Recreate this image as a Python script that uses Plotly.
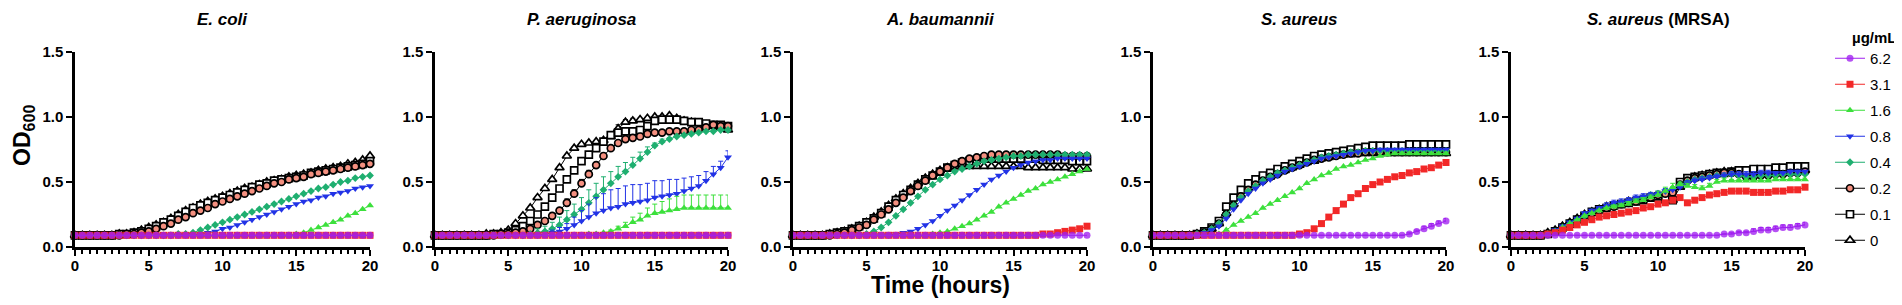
import plotly.graph_objects as go

TIME = [0, 0.5, 1, 1.5, 2, 2.5, 3, 3.5, 4, 4.5,
        5, 5.5, 6, 6.5, 7, 7.5, 8, 8.5, 9, 9.5,
        10, 10.5, 11, 11.5, 12, 12.5, 13, 13.5, 14, 14.5,
        15, 15.5, 16, 16.5, 17, 17.5, 18, 18.5, 19, 19.5,
        20]

PANELS = ["<b><i>E. coli</i></b>", "<b><i>P. aeruginosa</i></b>", "<b><i>A. baumannii</i></b>",
          "<b><i>S. aureus</i></b>", "<b><i>S. aureus</i> (MRSA)</b>"]
CONC = ["6.2", "3.1", "1.6", "0.8", "0.4", "0.2", "0.1", "0"]
FLAT = [0.09, 0.09, 0.09, 0.09, 0.09, 0.09, 0.09, 0.09, 0.09, 0.09,
        0.09, 0.09, 0.09, 0.09, 0.09, 0.09, 0.09, 0.09, 0.09, 0.09,
        0.09, 0.09, 0.09, 0.09, 0.09, 0.09, 0.09, 0.09, 0.09, 0.09,
        0.09, 0.09, 0.09, 0.09, 0.09, 0.09, 0.09, 0.09, 0.09, 0.09,
        0.09]

# ---------------- E. coli ----------------
EC_0 = [0.09, 0.09, 0.09, 0.09, 0.09, 0.09, 0.10, 0.10, 0.11, 0.13,
        0.15, 0.17, 0.19, 0.22, 0.25, 0.28, 0.30, 0.33, 0.35, 0.37,
        0.39, 0.41, 0.43, 0.45, 0.46, 0.48, 0.50, 0.51, 0.52, 0.54,
        0.55, 0.56, 0.57, 0.59, 0.60, 0.61, 0.62, 0.64, 0.65, 0.67,
        0.70]
EC_01 = [0.09, 0.09, 0.09, 0.09, 0.09, 0.09, 0.10, 0.10, 0.11, 0.12,
         0.14, 0.16, 0.19, 0.21, 0.24, 0.27, 0.30, 0.32, 0.34, 0.36,
         0.38, 0.40, 0.42, 0.44, 0.46, 0.48, 0.49, 0.51, 0.52, 0.53,
         0.54, 0.55, 0.57, 0.58, 0.59, 0.60, 0.61, 0.62, 0.63, 0.64,
         0.66]
EC_02 = [0.09, 0.09, 0.09, 0.09, 0.09, 0.09, 0.09, 0.10, 0.10, 0.11,
         0.12, 0.14, 0.16, 0.18, 0.21, 0.23, 0.26, 0.28, 0.30, 0.33,
         0.35, 0.37, 0.39, 0.41, 0.43, 0.45, 0.47, 0.49, 0.50, 0.52,
         0.53, 0.54, 0.56, 0.57, 0.58, 0.59, 0.60, 0.61, 0.62, 0.63,
         0.64]
EC_04 = [0.09, 0.09, 0.09, 0.09, 0.09, 0.09, 0.09, 0.09, 0.09, 0.09,
         0.09, 0.09, 0.09, 0.09, 0.10, 0.10, 0.11, 0.13, 0.15, 0.17,
         0.19, 0.21, 0.23, 0.25, 0.27, 0.29, 0.31, 0.33, 0.35, 0.37,
         0.39, 0.41, 0.43, 0.45, 0.46, 0.48, 0.50, 0.51, 0.53, 0.54,
         0.55]
EC_08 = [0.09, 0.09, 0.09, 0.09, 0.09, 0.09, 0.09, 0.09, 0.09, 0.09,
         0.09, 0.09, 0.09, 0.09, 0.09, 0.09, 0.09, 0.10, 0.11, 0.12,
         0.14, 0.15, 0.17, 0.19, 0.21, 0.23, 0.25, 0.27, 0.29, 0.31,
         0.33, 0.35, 0.36, 0.38, 0.39, 0.41, 0.42, 0.43, 0.45, 0.46,
         0.47]
EC_16 = [0.09, 0.09, 0.09, 0.09, 0.09, 0.09, 0.09, 0.09, 0.09, 0.09,
         0.09, 0.09, 0.09, 0.09, 0.09, 0.09, 0.09, 0.09, 0.09, 0.09,
         0.09, 0.09, 0.09, 0.09, 0.09, 0.09, 0.09, 0.09, 0.09, 0.09,
         0.10, 0.11, 0.13, 0.15, 0.17, 0.19, 0.21, 0.24, 0.26, 0.29,
         0.32]
EC_31 = FLAT
EC_62 = FLAT

# ---------------- P. aeruginosa ----------------
PA_0 = [0.09, 0.09, 0.09, 0.09, 0.09, 0.09, 0.09, 0.10, 0.10, 0.11,
        0.13, 0.18, 0.24, 0.30, 0.38, 0.45, 0.52, 0.61, 0.70, 0.76,
        0.79, 0.80, 0.81, 0.82, 0.85, 0.91, 0.96, 0.97, 0.98, 0.99,
        1.00, 1.00, 1.01, 0.99, 0.97, 0.96, 0.95, 0.94, 0.93, 0.92,
        0.90]
PA_01 = [0.09, 0.09, 0.09, 0.09, 0.09, 0.09, 0.09, 0.09, 0.10, 0.10,
         0.11, 0.13, 0.16, 0.20, 0.25, 0.31, 0.38, 0.45, 0.52, 0.59,
         0.66, 0.71, 0.76, 0.81, 0.86, 0.88, 0.89, 0.89, 0.90, 0.93,
         0.97, 0.98, 0.98, 0.98, 0.97, 0.96, 0.96, 0.95, 0.94, 0.94,
         0.93]
PA_02 = [0.09, 0.09, 0.09, 0.09, 0.09, 0.09, 0.09, 0.09, 0.09, 0.10,
         0.10, 0.11, 0.12, 0.14, 0.17, 0.20, 0.24, 0.28, 0.34, 0.41,
         0.49, 0.56, 0.63, 0.70, 0.76, 0.80, 0.83, 0.84, 0.85, 0.87,
         0.88, 0.88, 0.89, 0.89, 0.89, 0.90, 0.90, 0.92, 0.94, 0.93,
         0.93]
PA_04 = [0.09, 0.09, 0.09, 0.09, 0.09, 0.09, 0.09, 0.09, 0.09, 0.09,
         0.09, 0.09, 0.09, 0.10, 0.11, 0.12, 0.14, 0.17, 0.21, 0.25,
         0.29, 0.34, 0.39, 0.44, 0.49, 0.54, 0.58, 0.63, 0.68, 0.73,
         0.78, 0.81, 0.83, 0.85, 0.86, 0.87, 0.88, 0.89, 0.89, 0.90,
         0.90]
PA_08 = [0.09, 0.09, 0.09, 0.09, 0.09, 0.09, 0.09, 0.09, 0.09, 0.09,
         0.09, 0.09, 0.09, 0.09, 0.09, 0.10, 0.11, 0.12, 0.14, 0.17,
         0.20, 0.23, 0.26, 0.28, 0.30, 0.31, 0.33, 0.34, 0.35, 0.36,
         0.38, 0.39, 0.40, 0.41, 0.43, 0.45, 0.47, 0.51, 0.56, 0.61,
         0.69]
PA_16 = [0.09, 0.09, 0.09, 0.09, 0.09, 0.09, 0.09, 0.09, 0.09, 0.09,
         0.09, 0.09, 0.09, 0.09, 0.09, 0.09, 0.09, 0.09, 0.09, 0.09,
         0.09, 0.10, 0.10, 0.11, 0.12, 0.14, 0.16, 0.19, 0.21, 0.24,
         0.26, 0.27, 0.28, 0.29, 0.30, 0.30, 0.30, 0.30, 0.30, 0.30,
         0.30]
PA_31 = FLAT
PA_62 = FLAT
PA_02_ERR = [0, 0, 0, 0, 0, 0, 0, 0, 0, 0,
             0, 0, 0, 0, 0.01, 0.01, 0.02, 0.02, 0.03, 0.03,
             0.03, 0.03, 0.02, 0.02, 0.01, 0.01, 0.01, 0.01, 0.01, 0.01,
             0.01, 0.01, 0.01, 0.01, 0.01, 0.01, 0.01, 0.01, 0.01, 0.01,
             0.01]
PA_0_ERR = [0, 0, 0, 0, 0, 0, 0, 0, 0, 0,
            0, 0, 0, 0, 0.01, 0.01, 0.01, 0.01, 0.01, 0.01,
            0.01, 0.01, 0.01, 0.01, 0.02, 0.03, 0.02, 0.02, 0.01, 0.01,
            0.01, 0.01, 0.01, 0.01, 0.01, 0.01, 0.01, 0.01, 0.01, 0.01,
            0.01]
PA_04_ERR = [0, 0, 0, 0, 0, 0, 0, 0, 0, 0,
             0, 0, 0, 0, 0.03, 0.04, 0.05, 0.06, 0.07, 0.08,
             0.09, 0.10, 0.10, 0.10, 0.09, 0.08, 0.07, 0.06, 0.05, 0.04,
             0.02, 0.02, 0.01, 0.01, 0.01, 0.01, 0.01, 0.01, 0.01, 0.01,
             0.01]
PA_08_ERR = [0, 0, 0, 0, 0, 0, 0, 0, 0, 0,
             0, 0, 0, 0, 0, 0, 0.02, 0.03, 0.04, 0.06,
             0.08, 0.10, 0.12, 0.13, 0.14, 0.14, 0.14, 0.14, 0.13, 0.13,
             0.13, 0.12, 0.12, 0.11, 0.10, 0.09, 0.08, 0.07, 0.06, 0.05,
             0.05]
PA_16_ERR = [0, 0, 0, 0, 0, 0, 0, 0, 0, 0,
             0, 0, 0, 0, 0, 0, 0, 0, 0, 0,
             0, 0, 0, 0, 0.01, 0.02, 0.03, 0.04, 0.05, 0.06,
             0.07, 0.08, 0.09, 0.10, 0.10, 0.10, 0.10, 0.10, 0.10, 0.10,
             0.10]

# ---------------- A. baumannii ----------------
AB_0 = [0.09, 0.09, 0.09, 0.09, 0.09, 0.10, 0.11, 0.12, 0.14, 0.16,
        0.19, 0.23, 0.27, 0.32, 0.37, 0.41, 0.45, 0.49, 0.53, 0.56,
        0.59, 0.61, 0.62, 0.62, 0.62, 0.62, 0.62, 0.62, 0.62, 0.62,
        0.62, 0.62, 0.61, 0.61, 0.61, 0.61, 0.61, 0.61, 0.60, 0.60,
        0.60]
AB_01 = [0.09, 0.09, 0.09, 0.09, 0.09, 0.10, 0.11, 0.12, 0.14, 0.16,
         0.19, 0.22, 0.26, 0.31, 0.36, 0.40, 0.44, 0.48, 0.52, 0.55,
         0.58, 0.61, 0.63, 0.65, 0.66, 0.67, 0.68, 0.68, 0.68, 0.68,
         0.68, 0.68, 0.68, 0.68, 0.67, 0.67, 0.67, 0.67, 0.66, 0.66,
         0.66]
AB_02 = [0.09, 0.09, 0.09, 0.09, 0.09, 0.09, 0.10, 0.11, 0.13, 0.15,
         0.17, 0.21, 0.25, 0.29, 0.34, 0.38, 0.43, 0.47, 0.51, 0.55,
         0.58, 0.61, 0.64, 0.66, 0.68, 0.69, 0.70, 0.71, 0.71, 0.71,
         0.71, 0.71, 0.71, 0.71, 0.71, 0.71, 0.71, 0.70, 0.70, 0.70,
         0.70]
AB_04 = [0.09, 0.09, 0.09, 0.09, 0.09, 0.09, 0.09, 0.09, 0.09, 0.09,
         0.10, 0.12, 0.15, 0.19, 0.24, 0.29, 0.34, 0.39, 0.44, 0.48,
         0.52, 0.55, 0.58, 0.60, 0.62, 0.64, 0.66, 0.67, 0.68, 0.69,
         0.70, 0.70, 0.71, 0.71, 0.71, 0.71, 0.71, 0.71, 0.71, 0.71,
         0.71]
AB_08 = [0.09, 0.09, 0.09, 0.09, 0.09, 0.09, 0.09, 0.09, 0.09, 0.09,
         0.09, 0.09, 0.09, 0.09, 0.10, 0.11, 0.12, 0.14, 0.17, 0.20,
         0.24, 0.28, 0.32, 0.36, 0.40, 0.44, 0.48, 0.52, 0.55, 0.58,
         0.61, 0.63, 0.65, 0.66, 0.67, 0.67, 0.68, 0.68, 0.68, 0.68,
         0.68]
AB_16 = [0.09, 0.09, 0.09, 0.09, 0.09, 0.09, 0.09, 0.09, 0.09, 0.09,
         0.09, 0.09, 0.09, 0.09, 0.09, 0.09, 0.09, 0.09, 0.09, 0.10,
         0.11, 0.12, 0.14, 0.16, 0.18, 0.21, 0.24, 0.27, 0.31, 0.34,
         0.37, 0.40, 0.43, 0.45, 0.48, 0.50, 0.52, 0.54, 0.56, 0.58,
         0.60]
AB_31 = [0.09, 0.09, 0.09, 0.09, 0.09, 0.09, 0.09, 0.09, 0.09, 0.09,
         0.09, 0.09, 0.09, 0.09, 0.09, 0.09, 0.09, 0.09, 0.09, 0.09,
         0.09, 0.09, 0.09, 0.09, 0.09, 0.09, 0.09, 0.09, 0.09, 0.09,
         0.09, 0.09, 0.09, 0.09, 0.10, 0.10, 0.11, 0.12, 0.13, 0.14,
         0.16]
AB_62 = FLAT

# ---------------- S. aureus ----------------
SA_0 = [0.09, 0.09, 0.09, 0.09, 0.09, 0.09, 0.10, 0.11, 0.14, 0.18,
        0.26, 0.33, 0.40, 0.45, 0.49, 0.52, 0.54, 0.57, 0.59, 0.61,
        0.63, 0.65, 0.66, 0.68, 0.69, 0.70, 0.71, 0.71, 0.72, 0.72,
        0.72, 0.72, 0.72, 0.72, 0.72, 0.72, 0.72, 0.72, 0.72, 0.72,
        0.72]
SA_01 = [0.09, 0.09, 0.09, 0.09, 0.09, 0.09, 0.10, 0.12, 0.15, 0.20,
         0.31, 0.38, 0.44, 0.49, 0.52, 0.55, 0.57, 0.60, 0.62, 0.64,
         0.66, 0.68, 0.70, 0.71, 0.72, 0.73, 0.74, 0.75, 0.76, 0.77,
         0.78, 0.78, 0.78, 0.78, 0.78, 0.79, 0.79, 0.79, 0.79, 0.79,
         0.79]
SA_02 = [0.09, 0.09, 0.09, 0.09, 0.09, 0.09, 0.10, 0.11, 0.14, 0.18,
         0.25, 0.32, 0.39, 0.44, 0.48, 0.51, 0.54, 0.56, 0.59, 0.61,
         0.63, 0.65, 0.67, 0.68, 0.69, 0.70, 0.71, 0.72, 0.72, 0.73,
         0.73, 0.73, 0.73, 0.73, 0.73, 0.73, 0.73, 0.73, 0.73, 0.73,
         0.73]
SA_04 = [0.09, 0.09, 0.09, 0.09, 0.09, 0.09, 0.10, 0.11, 0.14, 0.18,
         0.25, 0.32, 0.38, 0.43, 0.47, 0.51, 0.54, 0.57, 0.59, 0.61,
         0.63, 0.65, 0.67, 0.69, 0.70, 0.71, 0.72, 0.73, 0.73, 0.74,
         0.74, 0.74, 0.74, 0.74, 0.74, 0.74, 0.74, 0.74, 0.74, 0.74,
         0.74]
SA_08 = [0.09, 0.09, 0.09, 0.09, 0.09, 0.09, 0.10, 0.11, 0.13, 0.16,
         0.22, 0.29, 0.36, 0.41, 0.45, 0.49, 0.52, 0.55, 0.58, 0.60,
         0.62, 0.64, 0.66, 0.68, 0.69, 0.70, 0.71, 0.72, 0.73, 0.74,
         0.74, 0.75, 0.75, 0.75, 0.75, 0.75, 0.75, 0.75, 0.75, 0.75,
         0.75]
SA_16 = [0.09, 0.09, 0.09, 0.09, 0.09, 0.09, 0.09, 0.09, 0.09, 0.10,
         0.13, 0.17, 0.20, 0.23, 0.26, 0.30, 0.33, 0.36, 0.39, 0.42,
         0.45, 0.49, 0.52, 0.55, 0.57, 0.60, 0.62, 0.63, 0.65, 0.67,
         0.68, 0.70, 0.71, 0.72, 0.72, 0.72, 0.72, 0.72, 0.72, 0.72,
         0.72]
SA_31 = [0.09, 0.09, 0.09, 0.09, 0.09, 0.09, 0.09, 0.09, 0.09, 0.09,
         0.09, 0.09, 0.09, 0.09, 0.09, 0.09, 0.09, 0.09, 0.09, 0.09,
         0.10, 0.11, 0.14, 0.18, 0.23, 0.28, 0.33, 0.38, 0.41, 0.45,
         0.48, 0.50, 0.52, 0.54, 0.55, 0.57, 0.58, 0.60, 0.61, 0.63,
         0.65]
SA_62 = [0.09, 0.09, 0.09, 0.09, 0.09, 0.09, 0.09, 0.09, 0.09, 0.09,
         0.09, 0.09, 0.09, 0.09, 0.09, 0.09, 0.09, 0.09, 0.09, 0.09,
         0.09, 0.09, 0.09, 0.09, 0.09, 0.09, 0.09, 0.09, 0.09, 0.09,
         0.09, 0.09, 0.09, 0.09, 0.09, 0.10, 0.12, 0.14, 0.16, 0.18,
         0.20]
SA_62_ERR = [0, 0, 0, 0, 0, 0, 0, 0, 0, 0,
             0, 0, 0, 0, 0, 0, 0, 0, 0, 0,
             0, 0, 0, 0, 0, 0, 0, 0, 0, 0,
             0, 0, 0, 0, 0, 0.01, 0.01, 0.02, 0.02, 0.02,
             0.02]

# ---------------- S. aureus (MRSA) ----------------
MR_0 = [0.09, 0.09, 0.09, 0.09, 0.09, 0.11, 0.13, 0.16, 0.19, 0.22,
        0.25, 0.27, 0.29, 0.31, 0.32, 0.33, 0.35, 0.36, 0.37, 0.38,
        0.39, 0.38, 0.36, 0.46, 0.52, 0.54, 0.55, 0.56, 0.57, 0.58,
        0.58, 0.57, 0.56, 0.55, 0.56, 0.56, 0.57, 0.57, 0.58, 0.58,
        0.59]
MR_01 = [0.09, 0.09, 0.09, 0.09, 0.09, 0.10, 0.12, 0.15, 0.18, 0.21,
         0.24, 0.27, 0.29, 0.30, 0.32, 0.33, 0.34, 0.35, 0.36, 0.38,
         0.39, 0.37, 0.36, 0.50, 0.53, 0.54, 0.55, 0.56, 0.57, 0.57,
         0.58, 0.59, 0.59, 0.60, 0.60, 0.60, 0.61, 0.61, 0.62, 0.62,
         0.62]
MR_02 = [0.09, 0.09, 0.09, 0.09, 0.09, 0.10, 0.12, 0.15, 0.18, 0.21,
         0.24, 0.26, 0.28, 0.30, 0.31, 0.33, 0.34, 0.35, 0.37, 0.38,
         0.40, 0.41, 0.42, 0.48, 0.51, 0.53, 0.54, 0.55, 0.56, 0.57,
         0.57, 0.56, 0.54, 0.54, 0.55, 0.55, 0.56, 0.56, 0.57, 0.57,
         0.58]
MR_04 = [0.09, 0.09, 0.09, 0.09, 0.09, 0.10, 0.12, 0.15, 0.18, 0.21,
         0.24, 0.27, 0.29, 0.31, 0.32, 0.34, 0.35, 0.37, 0.38, 0.40,
         0.41, 0.43, 0.45, 0.48, 0.50, 0.52, 0.53, 0.54, 0.55, 0.55,
         0.56, 0.55, 0.54, 0.54, 0.55, 0.55, 0.55, 0.56, 0.56, 0.56,
         0.56]
MR_08 = [0.09, 0.09, 0.09, 0.09, 0.09, 0.10, 0.13, 0.16, 0.19, 0.22,
         0.26, 0.28, 0.30, 0.32, 0.34, 0.35, 0.36, 0.38, 0.39, 0.40,
         0.41, 0.43, 0.44, 0.46, 0.49, 0.51, 0.52, 0.53, 0.54, 0.55,
         0.56, 0.56, 0.56, 0.56, 0.57, 0.57, 0.57, 0.57, 0.58, 0.58,
         0.58]
MR_16 = [0.09, 0.09, 0.09, 0.09, 0.09, 0.10, 0.12, 0.15, 0.18, 0.21,
         0.24, 0.26, 0.28, 0.30, 0.31, 0.32, 0.33, 0.35, 0.36, 0.38,
         0.40, 0.43, 0.46, 0.48, 0.47, 0.46, 0.45, 0.47, 0.50, 0.51,
         0.51, 0.51, 0.51, 0.51, 0.51, 0.51, 0.52, 0.52, 0.52, 0.52,
         0.52]
MR_31 = [0.09, 0.09, 0.09, 0.09, 0.09, 0.10, 0.11, 0.13, 0.15, 0.17,
         0.19, 0.21, 0.23, 0.24, 0.25, 0.26, 0.27, 0.28, 0.30, 0.31,
         0.33, 0.34, 0.36, 0.38, 0.34, 0.36, 0.38, 0.40, 0.41, 0.42,
         0.43, 0.43, 0.43, 0.42, 0.42, 0.42, 0.43, 0.43, 0.44, 0.44,
         0.46]
MR_62 = [0.09, 0.09, 0.09, 0.09, 0.09, 0.09, 0.09, 0.09, 0.09, 0.09,
         0.09, 0.09, 0.09, 0.09, 0.09, 0.09, 0.09, 0.09, 0.09, 0.09,
         0.09, 0.09, 0.09, 0.09, 0.09, 0.09, 0.09, 0.09, 0.09, 0.10,
         0.10, 0.11, 0.11, 0.12, 0.13, 0.13, 0.14, 0.15, 0.15, 0.16,
         0.17]
MR_62_ERR = [0, 0, 0, 0, 0, 0, 0, 0, 0, 0,
             0, 0, 0, 0, 0, 0, 0, 0, 0, 0,
             0, 0, 0, 0, 0, 0, 0, 0, 0, 0,
             0.01, 0.01, 0.01, 0.02, 0.02, 0.02, 0.02, 0.02, 0.02, 0.02,
             0.02]
MR_08_ERR = [0, 0, 0, 0, 0, 0, 0, 0, 0, 0,
             0.01, 0.01, 0.01, 0.02, 0.02, 0.02, 0.02, 0.02, 0.02, 0.02,
             0.02, 0.02, 0.02, 0.02, 0.02, 0.02, 0.02, 0.02, 0.02, 0.02,
             0.02, 0.02, 0.02, 0.02, 0.02, 0.02, 0.01, 0.01, 0.01, 0.01,
             0.01]
MR_16_ERR = [0, 0, 0, 0, 0, 0, 0, 0, 0, 0,
             0, 0, 0, 0, 0.01, 0.01, 0.02, 0.02, 0.02, 0.02,
             0.03, 0.03, 0.03, 0.02, 0.02, 0.02, 0.02, 0.02, 0.02, 0.02,
             0.01, 0.01, 0.01, 0.01, 0.01, 0.01, 0.01, 0.01, 0.01, 0.01,
             0.01]

DATA = [
    {"6.2": (EC_62, None), "3.1": (EC_31, None), "1.6": (EC_16, None), "0.8": (EC_08, None),
     "0.4": (EC_04, None), "0.2": (EC_02, None), "0.1": (EC_01, None), "0": (EC_0, None)},
    {"6.2": (PA_62, None), "3.1": (PA_31, None), "1.6": (PA_16, PA_16_ERR), "0.8": (PA_08, PA_08_ERR),
     "0.4": (PA_04, PA_04_ERR), "0.2": (PA_02, PA_02_ERR), "0.1": (PA_01, None), "0": (PA_0, PA_0_ERR)},
    {"6.2": (AB_62, None), "3.1": (AB_31, None), "1.6": (AB_16, None), "0.8": (AB_08, None),
     "0.4": (AB_04, None), "0.2": (AB_02, None), "0.1": (AB_01, None), "0": (AB_0, None)},
    {"6.2": (SA_62, SA_62_ERR), "3.1": (SA_31, None), "1.6": (SA_16, None), "0.8": (SA_08, None),
     "0.4": (SA_04, None), "0.2": (SA_02, None), "0.1": (SA_01, None), "0": (SA_0, None)},
    {"6.2": (MR_62, MR_62_ERR), "3.1": (MR_31, None), "1.6": (MR_16, MR_16_ERR), "0.8": (MR_08, MR_08_ERR),
     "0.4": (MR_04, None), "0.2": (MR_02, None), "0.1": (MR_01, None), "0": (MR_0, None)},
]

STYLE = {
    "6.2": dict(symbol="circle", color="#A020F0", fill="#A020F0", lw=0, size=7, op=0.78),
    "3.1": dict(symbol="square", color="#F22828", fill="#F22828", lw=0, size=7, op=1),
    "1.6": dict(symbol="triangle-up", color="#3CE03C", fill="#3CE03C", lw=0, size=7, op=1),
    "0.8": dict(symbol="triangle-down", color="#2233E6", fill="#2233E6", lw=0, size=7, op=1),
    "0.4": dict(symbol="diamond", color="#1FAF70", fill="#1FAF70", lw=0, size=6, op=1),
    "0.2": dict(symbol="circle", color="#000000", fill="#F49080", lw=1.7, size=7, op=1),
    "0.1": dict(symbol="square", color="#000000", fill="#FFFFFF", lw=1.7, size=7, op=1),
    "0": dict(symbol="triangle-up", color="#000000", fill="#FFFFFF", lw=1.7, size=8, op=1),
}

W, H = 1902, 305
PX = [(67, 362), (427, 720), (785, 1079), (1145, 1438), (1503, 1797)]
Y0, Y1 = 239, 44
ydom = [(H - Y0) / H, (H - Y1) / H]

FONT = "Liberation Sans, Arial, sans-serif"
fig = go.Figure()

# legend entries (in legend order)
for c in CONC:
    s = STYLE[c]
    fig.add_trace(go.Scatter(
        x=[None], y=[None], mode="lines+markers", name=c, legendgroup=c, showlegend=True,
        line=dict(color=s["color"], width=1),
        marker=dict(symbol=s["symbol"], size=s["size"], color=s["fill"], opacity=s["op"],
                    line=dict(color=s["color"], width=s["lw"])),
        xaxis="x", yaxis="y"))

# data (drawn from 0 upward so high concentrations lie on top)
for i, panel in enumerate(DATA):
    ax = "" if i == 0 else str(i + 1)
    for c in reversed(CONC):
        vals, err = panel[c]
        s = STYLE[c]
        ey = None
        if err is not None:
            ey = dict(type="data", symmetric=False, array=err, arrayminus=[0] * len(err),
                      color=s["color"] if s["lw"] == 0 else "#000000", thickness=1, width=2.5)
        fig.add_trace(go.Scatter(
            x=TIME, y=vals, mode="lines+markers", name=c, legendgroup=c, showlegend=False,
            line=dict(color=s["color"], width=1),
            marker=dict(symbol=s["symbol"], size=s["size"], color=s["fill"], opacity=s["op"],
                        line=dict(color=s["color"], width=s["lw"])),
            error_y=ey, cliponaxis=False,
            xaxis="x" + ax, yaxis="y" + ax))

layout = dict(
    template="none",
    width=W, height=H, margin=dict(l=0, r=0, t=0, b=0, autoexpand=False),
    paper_bgcolor="white", plot_bgcolor="white",
    showlegend=True,
    legend=dict(x=1822 / W, y=(H - 34) / H, xanchor="left", yanchor="top",
                traceorder="grouped", tracegroupgap=3.5, itemwidth=30,
                bgcolor="rgba(0,0,0,0)", borderwidth=0,
                font=dict(family=FONT, size=15, color="#000")),
)
annotations = []
for i, (a, b) in enumerate(PX):
    ax = "" if i == 0 else str(i + 1)
    layout["xaxis" + ax] = dict(
        domain=[a / W, b / W], range=[0, 20], anchor="y" + ax, automargin=False,
        showline=True, linewidth=2.5, linecolor="black", showgrid=False, zeroline=False,
        ticks="outside", ticklen=6, tickwidth=2, tickcolor="black",
        tickvals=[0, 5, 10, 15, 20], ticklabelstandoff=-3,
        minor=dict(dtick=0.5, tick0=0, ticks="outside", ticklen=4, tickwidth=1.5, tickcolor="black",
                   showgrid=False),
        tickfont=dict(family=FONT, size=15, color="black", weight="bold"))
    layout["yaxis" + ax] = dict(
        domain=ydom, range=[0, 1.5], anchor="x" + ax, automargin=False,
        showline=True, linewidth=2.5, linecolor="black", showgrid=False, zeroline=False,
        ticks="outside", ticklen=6, tickwidth=2, tickcolor="black",
        tickvals=[0, 0.5, 1.0, 1.5], tickformat=".1f",
        tickfont=dict(family=FONT, size=15, color="black", weight="bold"))
    annotations.append(dict(
        text=PANELS[i], x=(a + b) / 2 / W, y=(H - 12) / H, xref="paper", yref="paper",
        xanchor="center", yanchor="middle", showarrow=False,
        font=dict(family=FONT, size=17, color="black")))

annotations.append(dict(
    text="<b>µg/mL</b>", x=1842 / W, y=(H - 29) / H, xref="paper", yref="paper",
    xanchor="left", yanchor="middle", showarrow=False,
    font=dict(family=FONT, size=15, color="black")))
annotations.append(dict(
    text="<b>Time (hours)</b>", x=(PX[2][0] + PX[2][1]) / 2 / W, y=(H - 277) / H,
    xref="paper", yref="paper", xanchor="center", yanchor="middle", showarrow=False,
    font=dict(family=FONT, size=23, color="black")))
annotations.append(dict(
    text="<b>OD<sub>600</sub></b>", x=15 / W, y=(H - 128) / H, textangle=-90,
    xref="paper", yref="paper", xanchor="center", yanchor="middle", showarrow=False,
    font=dict(family=FONT, size=23, color="black")))
layout["annotations"] = annotations
fig.update_layout(**layout)
fig.write_html("out.html")
